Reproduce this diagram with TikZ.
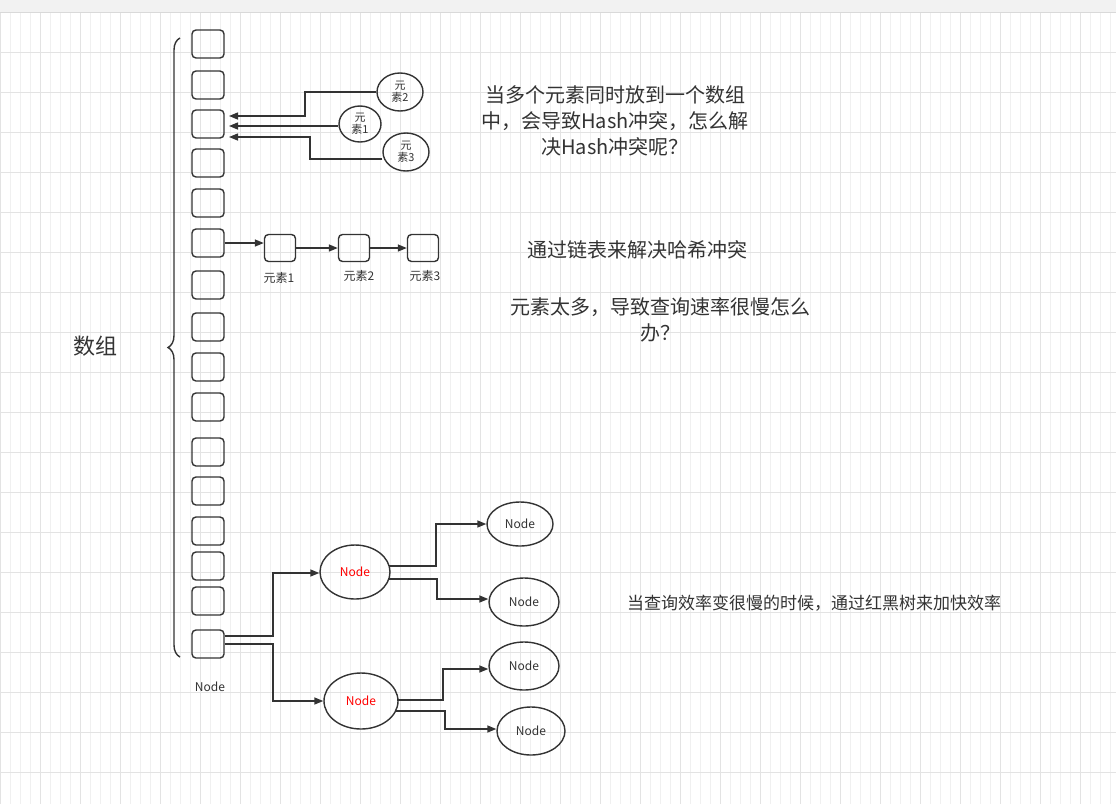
\documentclass[tikz,border=0pt]{standalone}
\usepackage{fontspec}
\setmainfont{Noto Sans CJK SC}
\usetikzlibrary{arrows.meta,decorations.pathreplacing,shapes.geometric}
\definecolor{ln}{HTML}{333333}
\tikzset{
 every node/.style={font=\fontsize{12}{14}\selectfont,text=ln},
 cell/.style={draw=ln,line width=1.4pt,rounded corners=4pt,minimum width=32pt,minimum height=28pt,inner sep=0pt},
 lcell/.style={cell,minimum width=31pt,minimum height=27pt},
 el/.style={draw=ln,line width=1.4pt,ellipse,inner sep=0pt},
 con/.style={draw=ln,line width=1.4pt,-{Triangle[length=9pt,width=7pt]}},
 big/.style={font=\fontsize{20}{26}\selectfont,align=center},
}
\begin{document}
\begin{tikzpicture}[x=1pt,y=-1pt]
\useasboundingbox (0,0) rectangle (1116,804);
\fill[white] (0,0) rectangle (1116,804);
\draw[gray!12,line width=0.5pt] (0,12) grid[step=10] (1116,804);
\foreach \x in {0,40,...,1116} \draw[gray!22,line width=0.6pt] (\x,12)--(\x,804);
\foreach \y in {12,52,...,804} \draw[gray!22,line width=0.6pt] (0,\y)--(1116,\y);
\fill[gray!10] (0,0) rectangle (1116,12);
\draw[gray!30] (0,12)--(1116,12);
% array
\foreach \i/\y in {1/44,2/85,3/124,4/163,5/203,6/243,7/285,8/327,9/367,10/407,11/452,12/491,13/531,14/566,15/601,16/644}
  \node[cell] (a\i) at (208,\y) {};
\draw[ln,line width=1.4pt,decorate,decoration={brace,amplitude=12pt}] (180,657)--(180,38);
\node[font=\fontsize{22}{26}\selectfont] (arr) at (95,346) {数组};
% collisions
\node[el,minimum width=46pt,minimum height=38pt,align=center,font=\fontsize{11}{12}\selectfont] (e2) at (400,92) {元\\素2};
\node[el,minimum width=42pt,minimum height=36pt,align=center,font=\fontsize{11}{12}\selectfont] (e1) at (360,124) {元\\素1};
\node[el,minimum width=46pt,minimum height=38pt,align=center,font=\fontsize{11}{12}\selectfont] (e3) at (406,152) {元\\素3};
\coordinate (t2) at (229,116);\coordinate (t1) at (229,126);\coordinate (t3) at (229,137);
\draw[con] (e2.west|-0,92) -- (305,92) -- (305,116) -- (t2);
\draw[con] (e1.west|-0,126) -- (t1);
\draw[con] (e3.west|-0,159) -- (310,159) -- (310,137) -- (t3);
% chain
\node[lcell] (c1) at (280,248) {};
\node[lcell] (c2) at (354,248) {};
\node[lcell] (c3) at (423,248) {};
\draw[con] (a6.east) -- (c1.west|-a6.east);
\draw[con] (c1.east) -- (c2.west);
\draw[con] (c2.east) -- (c3.west);
\node (l1) at (279,278) {元素1};
\node (l2) at (359,276) {元素2};
\node (l3) at (425,276) {元素3};
% texts
\node[big] (t1x) at (615,121) {当多个元素同时放到一个数组\\中，会导致Hash冲突，怎么解\\决Hash冲突呢？};
\node[big] (t2x) at (637,250) {通过链表来解决哈希冲突};
\node[big] (t3x) at (660,320) {元素太多，导致查询速率很慢怎么\\办？};
\node[font=\fontsize{17}{20}\selectfont] (t4x) at (814,603) {当查询效率变很慢的时候，通过红黑树来加快效率};
% tree
\node (nl) at (210,687) {Node};
\node[el,minimum width=70pt,minimum height=54pt,text=red] (r1) at (355,572) {Node};
\node[el,minimum width=74pt,minimum height=56pt,text=red] (r2) at (361,701) {Node};
\node[el,minimum width=66pt,minimum height=44pt] (n1) at (520,524) {Node};
\node[el,minimum width=70pt,minimum height=48pt] (n2) at (524,602) {Node};
\node[el,minimum width=70pt,minimum height=48pt] (n3) at (524,666) {Node};
\node[el,minimum width=68pt,minimum height=48pt] (n4) at (531,731) {Node};
\draw[con] (a16.east|-0,636) -- (273,636) -- (273,573) -- (r1.west|-0,573);
\draw[con] (a16.east|-0,644) -- (273,644) -- (273,701) -- (r2.west);
\draw[con] (389,566) -- (436,566) -- (436,524) -- (n1.west);
\draw[con] (389,579) -- (437,579) -- (437,599) -- (n2.west|-0,599);
\draw[con] (397,700) -- (443,700) -- (443,669) -- (n3.west|-0,669);
\draw[con] (395,711) -- (445,711) -- (445,729) -- (n4.west|-0,729);
\end{tikzpicture}
\end{document}
